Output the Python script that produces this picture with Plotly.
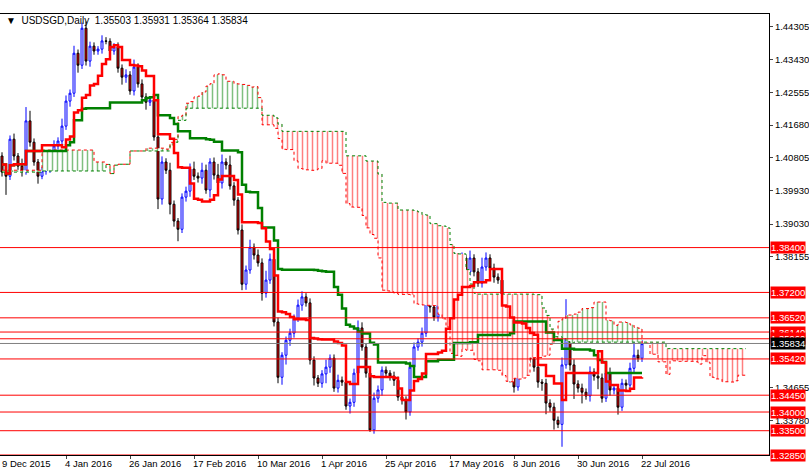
import numpy as np
import pandas as pd
import plotly.graph_objects as go

closes = [1.4042,1.4031,1.4130,1.4085,1.4058,1.4045,1.4179,1.4122,1.4069,1.4031,
          1.4045,1.4050,1.4063,1.4112,1.4125,1.4165,1.4232,1.4253,1.4360,1.4328,
          1.4427,1.4339,1.4379,1.4366,1.4371,1.4393,1.4392,1.4366,1.4377,1.4320,
          1.4296,1.4302,1.4259,1.4323,1.4278,1.4243,1.4229,1.4235,1.4136,1.3970,
          1.4069,1.4047,1.3956,1.3911,1.3889,1.3975,1.3991,1.4050,1.4031,1.4026,
          1.4047,1.3994,1.4069,1.4034,1.4013,1.4069,1.4061,1.4005,1.3967,1.3887,
          1.3742,1.3780,1.3841,1.3820,1.3799,1.3718,1.3753,1.3809,1.3641,1.3493,
          1.3552,1.3592,1.3611,1.3651,1.3686,1.3708,1.3692,1.3539,1.3491,1.3477,
          1.3502,1.3520,1.3544,1.3464,1.3485,1.3480,1.3416,1.3426,1.3504,1.3625,
          1.3574,1.3504,1.3352,1.3437,1.3459,1.3512,1.3504,1.3496,1.3485,1.3440,
          1.3432,1.3400,1.3520,1.3574,1.3587,1.3611,1.3718,1.3681,1.3654,1.3718,
          1.3713,1.3692,1.3683,1.3815,1.3799,1.3812,1.3775,1.3812,1.3775,1.3745,
          1.3788,1.3812,1.3785,1.3761,1.3753,1.3558,1.3553,1.3504,1.3467,1.3517,
          1.3587,1.3547,1.3542,1.3520,1.3480,1.3477,1.3424,1.3413,1.3378,1.3367,
          1.3526,1.3622,1.3526,1.3475,1.3464,1.3453,1.3443,1.3507,1.3496,1.3491,
          1.3437,1.3504,1.3459,1.3464,1.3413,1.3477,1.3472,1.3517,1.3552,1.3544,
          1.3583]
first_open = 1.4085
wick_up = [0.0010,0.0012,0.0010,0.0015,0.0008,0.0020,0.0037,0.0027,0.0010,0.0008,
           0.0010,0.0006,0.0012,0.0015,0.0010,0.0020,0.0015,0.0010,0.0020,0.0010,
           0.0015,0.0018,0.0012,0.0010,0.0008,0.0015,0.0010,0.0008,0.0010,0.0012,
           0.0010,0.0015,0.0010,0.0020,0.0010,0.0012,0.0010,0.0008,0.0015,0.0030,
           0.0015,0.0010,0.0020,0.0010,0.0008,0.0010,0.0012,0.0015,0.0020,0.0010,
           0.0020,0.0015,0.0010,0.0012,0.0030,0.0020,0.0010,0.0025,0.0010,0.0008,
           0.0015,0.0012,0.0020,0.0010,0.0015,0.0012,0.0025,0.0015,0.0010,0.0012,
           0.0008,0.0010,0.0012,0.0010,0.0015,0.0015,0.0010,0.0012,0.0010,0.0008,
           0.0010,0.0020,0.0010,0.0010,0.0015,0.0010,0.0008,0.0010,0.0012,0.0020,
           0.0015,0.0010,0.0010,0.0015,0.0012,0.0010,0.0010,0.0008,0.0012,0.0010,
           0.0008,0.0010,0.0015,0.0012,0.0010,0.0015,0.0012,0.0010,0.0010,0.0020,
           0.0015,0.0010,0.0008,0.0012,0.0010,0.0015,0.0008,0.0020,0.0010,0.0010,
           0.0025,0.0015,0.0010,0.0012,0.0010,0.0008,0.0010,0.0012,0.0010,0.0015,
           0.0010,0.0012,0.0010,0.0015,0.0010,0.0008,0.0012,0.0010,0.0012,0.0010,
           0.0020,0.0080,0.0020,0.0015,0.0010,0.0012,0.0010,0.0015,0.0010,0.0008,
           0.0012,0.0010,0.0015,0.0010,0.0008,0.0012,0.0010,0.0015,0.0040,0.0015,
           0.0010]
wick_dn = [0.0012,0.0050,0.0010,0.0012,0.0010,0.0015,0.0010,0.0012,0.0010,0.0020,
           0.0008,0.0010,0.0010,0.0012,0.0010,0.0015,0.0010,0.0015,0.0010,0.0020,
           0.0010,0.0012,0.0015,0.0010,0.0010,0.0012,0.0008,0.0015,0.0010,0.0012,
           0.0020,0.0015,0.0010,0.0012,0.0010,0.0015,0.0020,0.0010,0.0010,0.0027,
           0.0015,0.0010,0.0027,0.0015,0.0032,0.0010,0.0012,0.0015,0.0010,0.0012,
           0.0015,0.0010,0.0020,0.0012,0.0010,0.0015,0.0012,0.0010,0.0015,0.0012,
           0.0016,0.0015,0.0010,0.0012,0.0010,0.0020,0.0012,0.0010,0.0012,0.0016,
           0.0020,0.0025,0.0015,0.0012,0.0010,0.0015,0.0010,0.0012,0.0020,0.0010,
           0.0012,0.0025,0.0015,0.0010,0.0012,0.0010,0.0010,0.0020,0.0012,0.0015,
           0.0010,0.0012,0.0005,0.0010,0.0012,0.0015,0.0010,0.0012,0.0015,0.0010,
           0.0012,0.0020,0.0010,0.0012,0.0010,0.0012,0.0010,0.0015,0.0010,0.0012,
           0.0010,0.0012,0.0020,0.0010,0.0012,0.0010,0.0015,0.0010,0.0012,0.0010,
           0.0012,0.0010,0.0012,0.0015,0.0010,0.0020,0.0012,0.0025,0.0015,0.0010,
           0.0012,0.0015,0.0010,0.0012,0.0015,0.0020,0.0030,0.0012,0.0025,0.0010,
           0.0060,0.0010,0.0015,0.0040,0.0012,0.0030,0.0010,0.0015,0.0012,0.0030,
           0.0012,0.0010,0.0015,0.0012,0.0020,0.0010,0.0012,0.0010,0.0015,0.0010,
           0.0010]

# Senkou spans before the data window (projected from earlier history)
span_a_prior = [1.4047]*10 + [1.4101]*13 + [1.4069]*3
span_b_prior = [1.4042]*10 + [1.4045]*16

tick_bars = [16, 32, 48, 64, 80, 96, 112, 128, 144, 160]
tick_labels = ["4 Jan 2016","26 Jan 2016","17 Feb 2016","10 Mar 2016","1 Apr 2016",
               "25 Apr 2016","17 May 2016","8 Jun 2016","30 Jun 2016","22 Jul 2016"]
first_label = "9 Dec 2015"
levels = [1.38400,1.37200,1.36520,1.36140,1.35960,1.35420,1.34450,1.34000,1.33500,1.32850]
axis_ticks = [1.44305,1.43430,1.42555,1.41680,1.40805,1.39930,1.39030,1.38155,1.34655,1.33780]
last_price = 1.35834
title = "USDSGD,Daily  1.35503 1.35931 1.35364 1.35834"

c = np.array(closes)
o = np.concatenate([[first_open], c[:-1]])
h = np.maximum(o, c) + np.array(wick_up)
l = np.minimum(o, c) - np.array(wick_dn)
n = len(c)
x = np.arange(n)
H, L = pd.Series(h), pd.Series(l)
tenkan = (H.rolling(9, min_periods=1).max() + L.rolling(9, min_periods=1).min()) / 2
kijun = (H.rolling(26, min_periods=1).max() + L.rolling(26, min_periods=1).min()) / 2
sa = ((tenkan + kijun) / 2).values
sb = ((H.rolling(52, min_periods=1).max() + L.rolling(52, min_periods=1).min()) / 2).values
spanA = np.concatenate([span_a_prior, sa])
spanB = np.concatenate([span_b_prior, sb])
xc = np.arange(len(spanA))

FONT = "Liberation Sans"
fig = go.Figure()
lo = np.minimum(spanA, spanB)
for up, col in [(np.where(spanA >= spanB, spanA, lo), "#008000"), (np.where(spanB > spanA, spanB, lo), "#ff0000")]:
    fig.add_trace(go.Scatter(x=xc, y=lo, mode="lines", line=dict(width=0, shape="hv"), hoverinfo="skip", showlegend=False))
    fig.add_trace(go.Scatter(x=xc, y=up, mode="lines", line=dict(width=0, shape="hv"), fill="tonexty",
                             fillcolor="rgba(0,0,0,0)",
                             fillpattern=dict(shape="|", fgcolor=col, bgcolor="white", size=5, solidity=0.3),
                             hoverinfo="skip", showlegend=False))
fig.add_trace(go.Scatter(x=xc, y=spanA, mode="lines", line=dict(color="#ff0000", width=1, dash="dot", shape="hv"), showlegend=False))
fig.add_trace(go.Scatter(x=xc, y=spanB, mode="lines", line=dict(color="#008000", width=1, dash="dot", shape="hv"), showlegend=False))

for lv in levels:
    fig.add_shape(type="line", xref="paper", x0=0, x1=1, y0=lv, y1=lv, line=dict(color="#ff0000", width=1))
fig.add_shape(type="line", xref="paper", x0=0, x1=1, y0=last_price, y1=last_price, line=dict(color="#808080", width=1))

fig.add_trace(go.Candlestick(x=x, open=o, high=h, low=l, close=c, whiskerwidth=0,
                             increasing=dict(line=dict(color="#0000ff", width=1), fillcolor="white"),
                             decreasing=dict(line=dict(color="black", width=1), fillcolor="#ff0000"),
                             showlegend=False))
fig.add_trace(go.Scatter(x=x, y=kijun, mode="lines", line=dict(color="#008000", width=2.5, shape="hv"), showlegend=False))
fig.add_trace(go.Scatter(x=x, y=tenkan, mode="lines", line=dict(color="#ff0000", width=2.5, shape="hv"), showlegend=False))

ann = [dict(x=0, y=0, xref="paper", yref="paper", yanchor="top", xanchor="left", text=first_label, showarrow=False,
            font=dict(size=9.5, color="black", family=FONT), yshift=-1, xshift=0)]
for b, t in zip(tick_bars, tick_labels):
    ann.append(dict(x=b, y=0, xref="x", yref="paper", yanchor="top", xanchor="left", text=t, showarrow=False,
                    font=dict(size=9.5, color="black", family=FONT), yshift=-1, xshift=-3))
for lv in levels:
    ann.append(dict(x=1, y=lv, xref="paper", yref="y", xanchor="left", text=f"{lv:.5f}", showarrow=False,
                    bgcolor="#ff0000", font=dict(size=9.5, color="white", family=FONT), borderpad=0, xshift=1))
ann.append(dict(x=1, y=last_price, xref="paper", yref="y", xanchor="left", text=f"{last_price:.5f}", showarrow=False,
                bgcolor="black", font=dict(size=9.5, color="white", family=FONT), borderpad=0, xshift=1))
ann.append(dict(x=0, y=1, xref="paper", yref="paper", xanchor="left", yanchor="bottom", text="▼  " + title,
                showarrow=False, font=dict(size=10, color="black", family=FONT), xshift=4, yshift=-14))

fig.update_layout(width=809, height=472, margin=dict(l=0, r=40, t=14, b=17, autoexpand=False), plot_bgcolor="white",
                  paper_bgcolor="white", font=dict(family=FONT, size=10), annotations=ann,
                  xaxis=dict(range=[-0.5, 191.75], showgrid=False, zeroline=False, rangeslider=dict(visible=False),
                             tickvals=tick_bars, ticktext=[""]*len(tick_bars), ticks="outside", ticklen=3,
                             showline=True, linecolor="black", mirror=True),
                  yaxis=dict(range=[1.3285, 1.4465], side="right", showgrid=False, zeroline=False,
                             tickvals=axis_ticks, ticktext=[f"{v:.5f}" for v in axis_ticks], ticks="outside", ticklen=3,
                             showline=True, linecolor="black", mirror=True, tickfont=dict(size=9.5, color="black", family=FONT)))
fig.write_html("out.html", config={"displayModeBar": False},
               post_script="document.body.style.margin='0';document.body.style.overflow='hidden';")
